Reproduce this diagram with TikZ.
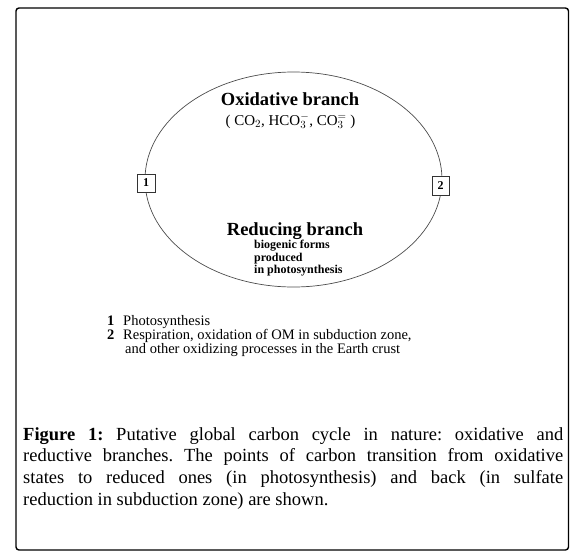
\documentclass[tikz,border=0pt]{standalone}
\usepackage{fontspec}
\setmainfont{Liberation Serif}
\usetikzlibrary{shapes.geometric}
\frenchspacing
\begin{document}
\begin{tikzpicture}[x=1pt,y=-1pt,
  ellip/.style={ellipse, draw=black!70, line width=0.7pt, minimum width=297pt, minimum height=215pt, inner sep=0pt},
  numbox/.style={draw=black!80, fill=white, line width=0.8pt, minimum width=18pt, minimum height=18pt, inner sep=0pt, font=\fontsize{12}{12}\selectfont\bfseries},
  branch/.style={anchor=base, inner sep=0pt, font=\fontsize{18.5}{20}\selectfont\bfseries},
  ions/.style={anchor=base, inner sep=0pt, font=\fontsize{15}{15}\selectfont},
  bio/.style={anchor=base west, inner sep=0pt, font=\fontsize{12}{12.5}\selectfont\bfseries},
  leg/.style={anchor=base west, inner sep=0pt, font=\fontsize{14.5}{14}\selectfont},
  capt/.style={anchor=north west, inner sep=0pt, text width=540pt, align=justify, font=\fontsize{18.5}{21.7}\selectfont}
]
\useasboundingbox (0,0) rectangle (587,560);
% outer frame
\draw[line width=1.4pt, rounded corners=3pt] (16,8) rectangle (568.5,550);
% cycle
\node[ellip] (cycle) at (293.5,179.5) {};
\node[numbox] (p1) at (146,183) {1};
\node[numbox, minimum width=17pt, minimum height=19pt] (p2) at (440.5,185.5) {2};
\node[branch] (ox) at (290,105) {Oxidative branch};
\node[ions] (ionlist) at (290.5,125) {( CO$_2$, HCO$_3^-$, CO$_3^=$ )};
\node[branch] (red) at (295,235) {Reducing branch};
\node[bio] (bio1) at (254,248) {biogenic forms};
\node[bio] (bio2) at (254,261) {produced};
\node[bio] (bio3) at (254,273) {in photosynthesis};
% legend
\node[leg] (l1) at (107,325) {\makebox[16pt][l]{\textbf{1}}Photosynthesis};
\node[leg] (l2) at (107,339) {\makebox[16pt][l]{\textbf{2}}Respiration, oxidation of OM in subduction zone,};
\node[leg] (l3) at (125,353) {and other oxidizing processes in the Earth crust};
% caption
\node[capt] (cap) at (23,424.8) {\frenchspacing\tolerance=9999\hyphenpenalty=10000\hbadness=10000\strut\textbf{Figure 1:} Putative global carbon cycle in nature: oxidative and\linebreak reductive branches. The points of carbon transition from oxidative\linebreak states to reduced ones (in photosynthesis) and back (in sulfate\linebreak reduction in subduction zone) are shown.};
\end{tikzpicture}
\end{document}
